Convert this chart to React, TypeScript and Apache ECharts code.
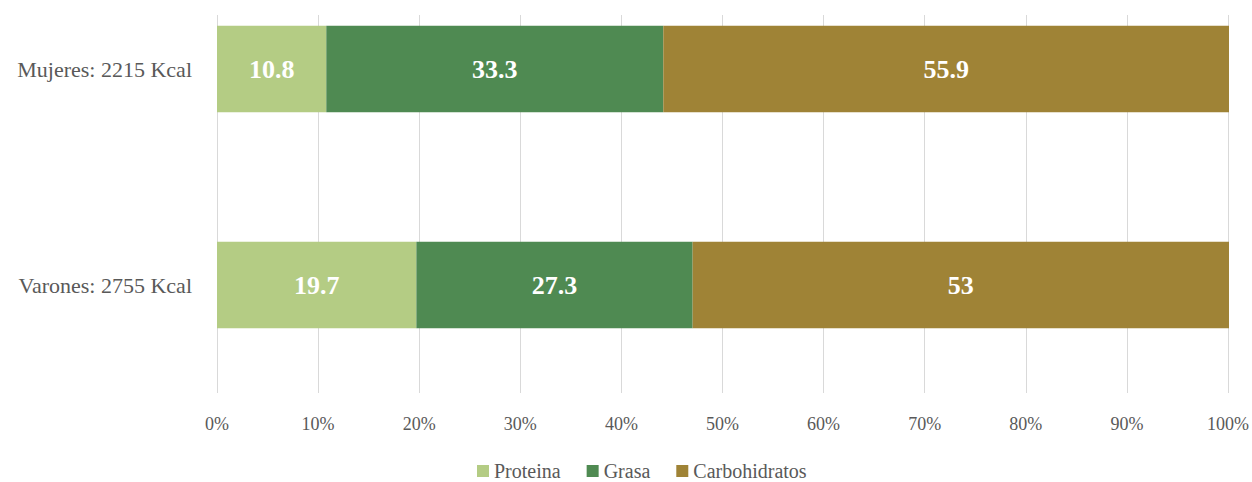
import React, { useEffect, useRef } from "react";
import * as echarts from "echarts";

const categories = ["Varones: 2755 Kcal", "Mujeres: 2215 Kcal"];
const proteina = [19.7, 10.8];
const grasa = [27.3, 33.3];
const carbohidratos = [53, 55.9];
const seriesNames = ["Proteina", "Grasa", "Carbohidratos"];
const colors = ["#B4CC84", "#4F8A52", "#9F8336"];

const FONT = "'Liberation Serif', 'DejaVu Serif', serif";
const SHIFT = 39;

export default function App() {
  const ref = useRef<HTMLDivElement>(null);
  useEffect(() => {
    if (!ref.current) return;
    const chart = echarts.init(ref.current, null, { renderer: "svg" });
    const values = [proteina, grasa, carbohidratos];
    chart.setOption({
      animation: false,
      textStyle: { fontFamily: FONT },
      grid: [
        { left: 217, right: 23, top: 15 + SHIFT, bottom: 89 },
        { left: 217, right: 23, top: 0, bottom: 89 },
      ],
      xAxis: [
        {
          type: "value",
          gridIndex: 0,
          min: 0,
          max: 100,
          interval: 10,
          axisLine: { show: false },
          axisTick: { show: false },
          splitLine: { show: true, lineStyle: { color: "#D9D9D9", width: 1 } },
          axisLabel: {
            formatter: "{value}%",
            color: "#595959",
            fontSize: 18,
            fontFamily: FONT,
            margin: 22,
          },
        },
        {
          type: "value",
          gridIndex: 1,
          min: 0,
          max: 100,
          show: false,
          splitLine: { show: false },
        },
      ],
      yAxis: [
        {
          type: "category",
          gridIndex: 0,
          data: categories,
          show: false,
        },
        {
          type: "category",
          gridIndex: 1,
          data: categories,
          axisLine: { show: false },
          axisTick: { show: false },
          axisLabel: {
            color: "#595959",
            fontSize: 22,
            fontFamily: FONT,
            margin: 25,
          },
        },
      ],
      legend: {
        top: 461 + SHIFT,
        left: 477,
        padding: 0,
        itemWidth: 12,
        itemHeight: 12,
        itemGap: 26,
        itemTextGap: 7,
        icon: "rect",
        textStyle: { color: "#595959", fontSize: 20, fontFamily: FONT, lineHeight: 20 },
        data: seriesNames,
      },
      series: seriesNames.map((name, i) => ({
        name,
        type: "bar",
        stack: "total",
        xAxisIndex: 1,
        yAxisIndex: 1,
        barCategoryGap: "60%",
        data: values[i],
        itemStyle: { color: colors[i] },
        label: {
          show: true,
          position: "inside",
          color: "#FFFFFF",
          fontWeight: "bold",
          fontSize: 26,
          fontFamily: FONT,
        },
      })),
    });
    return () => chart.dispose();
  }, []);
  return (
    <div style={{ width: 1252, height: 482, overflow: "hidden", position: "relative" }}>
      <div
        ref={ref}
        style={{ width: 1252, height: 482 + SHIFT, position: "absolute", left: 0, top: -SHIFT }}
      />
    </div>
  );
}

const _style = document.createElement("style");
_style.textContent = "body{margin:0}";
document.head.appendChild(_style);
